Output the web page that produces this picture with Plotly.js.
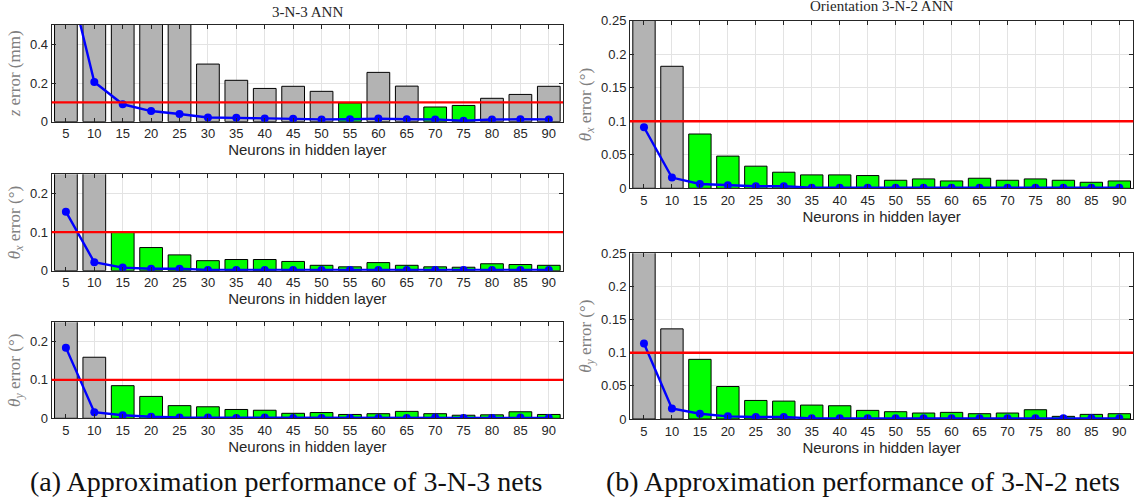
<!DOCTYPE html>
<html>
<head>
<meta charset="utf-8">
<script src="https://cdn.plot.ly/plotly-3.0.1.min.js"></script>
<style>html,body{margin:0;padding:0;background:#fff;}#chart{width:1138px;height:503px;}</style>
</head>
<body>
<div id="chart"></div>
<script>
// ---- data ----
const neurons = [5,10,15,20,25,30,35,40,45,50,55,60,65,70,75,80,85,90];
const threshold = 0.1;

// 3-N-3 net, z error (mm)
const z3Bar  = [1.6,1.2,0.9,0.8,0.7,0.298,0.214,0.172,0.183,0.157,0.097,0.255,0.184,0.076,0.084,0.121,0.141,0.183];
const z3Line = [0.81,0.205,0.090,0.055,0.040,0.022,0.020,0.017,0.015,0.012,0.013,0.016,0.013,0.012,0.005,0.011,0.013,0.012];
// 3-N-3 net, theta_x error (deg)
const thx3Bar  = [0.45,0.32,0.099,0.060,0.041,0.026,0.029,0.029,0.024,0.014,0.010,0.021,0.014,0.010,0.009,0.018,0.016,0.014];
const thx3Line = [0.153,0.022,0.008,0.005,0.005,0.002,0.002,0.002,0.002,0.002,0.002,0.002,0.002,0.002,0.002,0.002,0.002,0.002];
// 3-N-3 net, theta_y error (deg)
const thy3Bar  = [0.40,0.159,0.085,0.057,0.033,0.030,0.023,0.021,0.013,0.015,0.010,0.012,0.018,0.012,0.008,0.009,0.017,0.010];
const thy3Line = [0.184,0.016,0.008,0.004,0.002,0.002,0.001,0.002,0.001,0.001,0.001,0.001,0.001,0.002,0.001,0.001,0.002,0.001];
// 3-N-2 net, theta_x error (deg)
const thx2Bar  = [0.35,0.182,0.081,0.048,0.033,0.024,0.020,0.020,0.019,0.012,0.014,0.011,0.015,0.012,0.014,0.012,0.009,0.011];
const thx2Line = [0.091,0.016,0.0065,0.0045,0.003,0.003,0.001,0.001,0.001,0.001,0.001,0.001,0.001,0.001,0.001,0.001,0.001,0.001];
// 3-N-2 net, theta_y error (deg)
const thy2Bar  = [0.30,0.136,0.090,0.049,0.028,0.027,0.021,0.020,0.013,0.011,0.009,0.010,0.008,0.009,0.014,0.004,0.007,0.008];
const thy2Line = [0.114,0.016,0.008,0.004,0.003,0.003,0.001,0.001,0.001,0.001,0.001,0.001,0.001,0.001,0.001,0.001,0.001,0.001];

const panelTitles = ['3-N-3 ANN', 'Orientation 3-N-2 ANN'];
const captions = ['(a) Approximation performance of 3-N-3 nets', '(b) Approximation performance of 3-N-2 nets'];
const xTitle = 'Neurons in hidden layer';
const yTitles = ['<i>z</i> error (mm)', '<i>θ<sub>x</sub></i> error (°)', '<i>θ<sub>y</sub></i> error (°)', '<i>θ<sub>x</sub></i> error (°)', '<i>θ<sub>y</sub></i> error (°)'];

// ---- styling ----
const W = 1138, H = 503;
const GRAY = '#b3b3b3', GREEN = '#00ff00', AX = '#262626';
const sans = 'Liberation Sans, Arial, sans-serif';
const serif = 'Liberation Serif, Times New Roman, serif';

// pixel boxes [left, right, top, bottom]
const boxes = [
  [51.7, 563, 25, 121.7],
  [51.7, 563, 174.3, 270.7],
  [51.7, 563, 322.3, 418.3],
  [630, 1133.3, 20.7, 188.3],
  [630, 1133.3, 253.3, 419]
];
const series = [
  [z3Bar, z3Line, 0.5, 0.2],
  [thx3Bar, thx3Line, 0.25, 0.1],
  [thy3Bar, thy3Line, 0.25, 0.1],
  [thx2Bar, thx2Line, 0.25, 0.05],
  [thy2Bar, thy2Line, 0.25, 0.05]
];

const data = [];
const layout = {
  width: W, height: H,
  margin: {l: 0, r: 0, t: 0, b: 0},
  paper_bgcolor: '#fff', plot_bgcolor: '#fff',
  showlegend: false,
  font: {family: sans, color: AX, size: 13},
  shapes: [], annotations: []
};

series.forEach((s, i) => {
  const k = i === 0 ? '' : String(i + 1);
  const [bars, line, ymax, dt] = s;
  data.push({
    type: 'bar', x: neurons, y: bars, xaxis: 'x' + k, yaxis: 'y' + k,
    width: 4,
    marker: {color: bars.map(v => v < threshold ? GREEN : GRAY), line: {color: '#000', width: 1}},
    hoverinfo: 'x+y'
  });
  data.push({
    type: 'scatter', mode: 'lines+markers', x: neurons, y: line, xaxis: 'x' + k, yaxis: 'y' + k,
    line: {color: '#0000ff', width: 2.4},
    marker: {color: '#0000ff', size: 8, symbol: 'circle'}
  });
  const b = boxes[i];
  const ticks = [];
  for (let v = 0; v <= ymax + 1e-9; v += dt) ticks.push(+v.toFixed(3));
  layout['xaxis' + k] = {
    domain: [b[0] / W, b[1] / W], anchor: 'y' + k,
    range: [2.5, 92.5], tickvals: neurons, ticktext: neurons.map(String),
    ticks: 'inside', ticklen: 4, tickcolor: AX, showline: true, linecolor: AX, linewidth: 1, mirror: 'ticks',
    showgrid: true, gridcolor: '#e3e3e3', zeroline: false,
    tickfont: {family: sans, size: 13, color: AX},
    title: {text: xTitle, font: {family: sans, size: 15, color: AX}, standoff: 3},
    automargin: false, fixedrange: true
  };
  layout['yaxis' + k] = {
    domain: [1 - b[3] / H, 1 - b[2] / H], anchor: 'x' + k,
    range: [0, ymax], tickvals: ticks, ticktext: ticks.map(String),
    ticks: 'inside', ticklen: 4, tickcolor: AX, showline: true, linecolor: AX, linewidth: 1, mirror: 'ticks',
    showgrid: true, gridcolor: '#e3e3e3', zeroline: false,
    tickfont: {family: sans, size: 13, color: AX},
    title: {text: yTitles[i], font: {family: serif, size: 17, color: '#808080'}, standoff: 5},
    automargin: false, fixedrange: true
  };
  layout.shapes.push({
    type: 'line', xref: 'x' + k + ' domain', yref: 'y' + k,
    x0: 0, x1: 1, y0: threshold, y1: threshold,
    line: {color: '#ff0000', width: 2.4}, layer: 'above'
  });
});

// panel titles
layout.annotations.push({text: panelTitles[0], x: (boxes[0][0] + boxes[0][1]) / 2 / W, y: 1 - 12 / H,
  xref: 'paper', yref: 'paper', showarrow: false, xanchor: 'center', yanchor: 'middle',
  font: {family: serif, size: 15, color: AX}});
layout.annotations.push({text: panelTitles[1], x: (boxes[3][0] + boxes[3][1]) / 2 / W, y: 1 - 6 / H,
  xref: 'paper', yref: 'paper', showarrow: false, xanchor: 'center', yanchor: 'middle',
  font: {family: serif, size: 15, color: AX}});
// captions
layout.annotations.push({text: captions[0], x: 286 / W, y: 1 - 481 / H,
  xref: 'paper', yref: 'paper', showarrow: false, xanchor: 'center', yanchor: 'middle',
  font: {family: serif, size: 28, color: '#111'}});
layout.annotations.push({text: captions[1], x: 863 / W, y: 1 - 481 / H,
  xref: 'paper', yref: 'paper', showarrow: false, xanchor: 'center', yanchor: 'middle',
  font: {family: serif, size: 28, color: '#111'}});

Plotly.newPlot('chart', data, layout, {displayModeBar: false, staticPlot: true});
</script>
</body>
</html>
